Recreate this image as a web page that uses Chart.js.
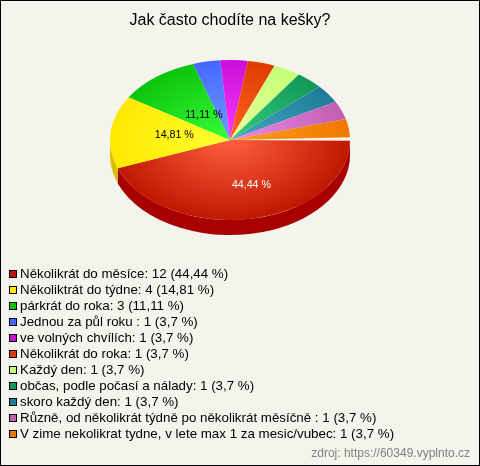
<!DOCTYPE html>
<html>
<head>
<meta charset="utf-8">
<style>
  html, body { margin: 0; padding: 0; background: #f4f4ec; }
  #wrap { position: relative; width: 480px; height: 466px; }
</style>
<script src="https://cdn.jsdelivr.net/npm/chart.js@4/dist/chart.umd.min.js"></script>
</head>
<body>
<div id="wrap"><canvas id="mainChart" width="480" height="466"></canvas></div>
<script>
// Data
const categories = [
    'Několikrát do měsíce', 'Několiktrát do týdne', 'párkrát do roka', 'Jednou za půl roku ',
    've volných chvílích', 'Několikrát do roka', 'Každý den', 'občas, podle počasí a nálady',
    'skoro každý den', 'Různě, od několikrát týdně po několikrát měsíčně ',
    'V zime nekolikrat tydne, v lete max 1 za mesic/vubec'
];
const counts = [12, 4, 3, 1, 1, 1, 1, 1, 1, 1, 1];
const percents = ['44,44', '14,81', '11,11', '3,7', '3,7', '3,7', '3,7', '3,7', '3,7', '3,7', '3,7'];

// Colours: edge of slice, middle of slice, side wall
const edgeColors = ['#c01800', '#ffe800', '#0cc40c', '#4468ff', '#c810d8', '#e03c00', '#c4ff78', '#109858', '#1c7c98', '#c060b0', '#ee7700'];
const midColors = ['#ff6040', '#ffff30', '#38ff38', '#6c9cff', '#ff38ff', '#ff6420', '#e8ff9c', '#38cc80', '#48a8c0', '#ee88ee', '#ffa020'];
const sideColors = ['#a80000', '#d8c000'];

// Percent labels inside the big slices: white on red, black elsewhere
const labelColors = ['#ffffff', '#000000', '#000000'];
const labelShift = [[12, 10], [-2, -1], [7, 4]];

const centerX = 230;
const centerY = 140;
const squash = 2 / 3;
const depth = 15;

function sliceGradient(context) {
    const chart = context.chart;
    const area = chart.chartArea;
    if (!area) return edgeColors[context.dataIndex];
    const x = (area.left + area.right) / 2;
    const y = (area.top + area.bottom) / 2;
    const g = chart.ctx.createRadialGradient(x, y, 0, x, y, 120);
    g.addColorStop(0, midColors[context.dataIndex]);
    g.addColorStop(1, edgeColors[context.dataIndex]);
    return g;
}

// Squash the pie into an ellipse and move it under the title
function tilt(ctx, arc) {
    ctx.translate(centerX, centerY);
    ctx.scale(1, squash);
    ctx.translate(-arc.x, -arc.y);
}

const piePlugin = {
    id: 'pie3d',
    beforeDraw(chart) {
        const ctx = chart.ctx;
        ctx.save();
        ctx.fillStyle = '#f4f4ec';
        ctx.fillRect(0, 0, chart.width, chart.height);
        ctx.strokeStyle = '#000000';
        ctx.lineWidth = 1;
        ctx.strokeRect(0.5, 0.5, chart.width - 1, chart.height - 1);
        ctx.restore();
    },
    beforeDatasetsDraw(chart) {
        const ctx = chart.ctx;
        const arcs = chart.getDatasetMeta(0).data;
        // side wall, only the front half can be seen
        arcs.forEach((arc, i) => {
            const from = Math.max(arc.startAngle, 0);
            const to = Math.min(arc.endAngle, Math.PI);
            if (to <= from) return;
            const r = arc.outerRadius;
            const ry = r * squash;
            ctx.save();
            ctx.beginPath();
            ctx.ellipse(centerX, centerY, r, ry, 0, from, to);
            ctx.ellipse(centerX, centerY + depth, r, ry, 0, to, from, true);
            ctx.closePath();
            ctx.fillStyle = sideColors[i];
            ctx.fill();
            ctx.restore();
        });
        ctx.save();
        tilt(ctx, arcs[0]);
    },
    afterDatasetsDraw(chart) {
        const ctx = chart.ctx;
        ctx.restore();
        const arcs = chart.getDatasetMeta(0).data;

        // percent labels
        ctx.save();
        ctx.font = '10.67px "Liberation Sans", Arial, sans-serif';
        ctx.textAlign = 'center';
        ctx.textBaseline = 'middle';
        labelColors.forEach((color, i) => {
            const arc = arcs[i];
            const mid = (arc.startAngle + arc.endAngle) / 2;
            const x = centerX + Math.cos(mid) * arc.outerRadius * 0.45 + labelShift[i][0];
            const y = centerY + Math.sin(mid) * arc.outerRadius * squash * 0.45 + labelShift[i][1];
            ctx.fillStyle = color;
            ctx.fillText(percents[i] + ' %', x, y);
        });
        ctx.restore();

        // legend list
        ctx.save();
        ctx.font = '13.33px "Liberation Sans", Arial, sans-serif';
        ctx.textAlign = 'left';
        ctx.textBaseline = 'middle';
        categories.forEach((name, i) => {
            const y = 274 + i * 16;
            ctx.fillStyle = edgeColors[i];
            ctx.fillRect(9.5, y - 3.5, 7, 7);
            ctx.strokeStyle = '#000000';
            ctx.lineWidth = 1;
            ctx.strokeRect(9.5, y - 3.5, 7, 7);
            ctx.fillStyle = '#000000';
            ctx.fillText(name + ': ' + counts[i] + ' (' + percents[i] + ' %)', 20, y);
        });
        ctx.restore();

        // source note
        ctx.save();
        ctx.font = '12px "Liberation Sans", Arial, sans-serif';
        ctx.textAlign = 'right';
        ctx.textBaseline = 'middle';
        ctx.fillStyle = '#808080';
        ctx.fillText('zdroj: https://60349.vyplnto.cz', 470, 454);
        ctx.restore();
    }
};

new Chart(document.getElementById('mainChart'), {
    type: 'pie',
    data: {
        labels: categories,
        datasets: [{
            data: counts,
            backgroundColor: sliceGradient,
            borderWidth: 0
        }]
    },
    options: {
        responsive: false,
        animation: false,
        rotation: 90.5,
        circumference: 357.5,
        layout: { padding: { left: 110, right: 130, top: 0, bottom: 185.2 } },
        plugins: {
            legend: { display: false },
            tooltip: { enabled: false },
            title: {
                display: true,
                text: 'Jak často chodíte na kešky?',
                color: '#000000',
                font: { family: '"Liberation Sans", Arial, sans-serif', size: 16, weight: 'normal' },
                padding: { top: 11, bottom: 10.6 }
            }
        }
    },
    plugins: [piePlugin]
});
</script>
</body>
</html>
